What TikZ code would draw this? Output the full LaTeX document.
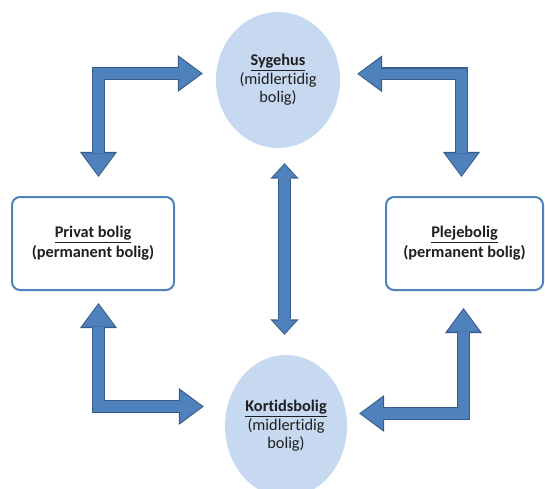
\documentclass[tikz,border=0pt]{standalone}
\usepackage{fontspec}
\setmainfont{Carlito}[Ligatures=NoCommon]
\definecolor{arrowfill}{HTML}{4F81BD}
\definecolor{arrowline}{HTML}{385D8A}
\definecolor{ovalfill}{HTML}{C6D9F1}
\definecolor{boxline}{HTML}{4F81BD}
\usetikzlibrary{arrows.meta,shapes.geometric}

\begin{document}
\begin{tikzpicture}[x=1pt,y=1pt,
  every node/.style={font=\fontsize{16.3}{18.5}\selectfont,text=black!88,align=center},
  place/.style={ellipse,fill=ovalfill,inner sep=0pt},
  home/.style={draw=boxline,line width=2pt,rounded corners=8pt,fill=white,
    font=\bfseries\fontsize{16.3}{20}\selectfont},
  bigarrow/.style={draw=arrowfill,line width=10.4pt,line join=miter,
    {Triangle[length=22pt,width=32pt,line width=0pt]}-{Triangle[length=22pt,width=32pt,line width=0pt]},
    shorten <=1.6pt,shorten >=1.6pt,
    preaction={draw=arrowline,line width=13.2pt,
      {Triangle[length=25pt,width=37pt,line width=0pt]}-{Triangle[length=25pt,width=37pt,line width=0pt]},
      shorten <=0pt,shorten >=0pt}},
  smallarrow/.style={draw=arrowfill,line width=10.4pt,
    {Triangle[length=12.5pt,width=23.5pt,line width=0pt]}-{Triangle[length=12.5pt,width=23.5pt,line width=0pt]},
    shorten <=1.6pt,shorten >=1.6pt,
    preaction={draw=arrowline,line width=13.2pt,
      {Triangle[length=15.5pt,width=28.5pt,line width=0pt]}-{Triangle[length=15.5pt,width=28.5pt,line width=0pt]},
      shorten <=0pt,shorten >=0pt}}]
\useasboundingbox (0,0) rectangle (545,488);
% places
\node[place,minimum width=124pt,minimum height=136pt] (sygehus) at (278,408)
  {\underline{\textbf{Sygehus}}\\(midlertidig\\bolig)};
\node[place,minimum width=122pt,minimum height=142pt] (kort) at (286,62)
  {\underline{\textbf{Kortidsbolig}}\\(midlertidig\\bolig)};
\node[home,minimum width=162pt,minimum height=93pt] (privat) at (93,244.5)
  {\underline{Privat bolig}\\(permanent bolig)};
\node[home,minimum width=157pt,minimum height=93pt] (pleje) at (464.5,244.5)
  {\underline{Plejebolig}\\(permanent bolig)};
% arrows
\draw[bigarrow] ([xshift=5.5pt,yshift=19pt]privat.north) |- ([xshift=-13pt,yshift=6.5pt]sygehus.west);
\draw[bigarrow] ([xshift=17pt,yshift=6.2pt]sygehus.east) -| ([xshift=-3pt,yshift=19pt]pleje.north);
\draw[bigarrow] ([xshift=5.5pt,yshift=-12pt]privat.south) |- ([xshift=-21pt,yshift=19.5pt]kort.west);
\draw[bigarrow] ([xshift=12pt,yshift=12.5pt]kort.east) -| ([xshift=-1pt,yshift=-17pt]pleje.south);
\draw[smallarrow] ([xshift=6.5pt,yshift=-15pt]sygehus.south) -- ([xshift=-1.5pt,yshift=20pt]kort.north);
\end{tikzpicture}
\end{document}
